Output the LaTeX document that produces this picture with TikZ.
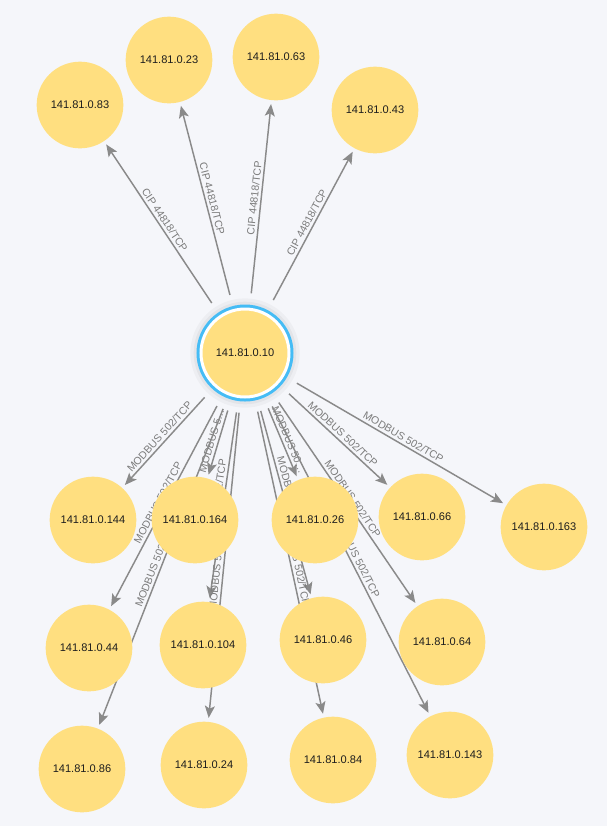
\documentclass[tikz,border=0pt]{standalone}
\usepackage{fontspec}
\setmainfont{Liberation Sans}
\usetikzlibrary{arrows.meta}
\definecolor{graphbg}{HTML}{F5F6FA}
\definecolor{ipfill}{HTML}{FFDF80}
\definecolor{ipring}{HTML}{45BCF5}
\definecolor{linkgray}{HTML}{8A8A8A}
\definecolor{labelgray}{HTML}{7B7B7B}
\definecolor{iptext}{HTML}{1E1E1E}
\pgfdeclarelayer{backdrop}
\pgfdeclarelayer{links}
\pgfsetlayers{backdrop,links,main}

\begin{document}
\begin{tikzpicture}[
    x=0.75pt, y=-0.75pt,
    ip/.style={circle, fill=ipfill, minimum size=65pt, inner sep=0pt, outer sep=3pt,
      text=iptext, font=\fontsize{8.3}{10}\selectfont},
    hub/.style={ip, minimum size=66pt, draw=white, line width=2.25pt,
      preaction={draw=ipring, line width=6.75pt}, outer sep=12pt},
    link/.style={draw=linkgray, line width=1.1pt,
      -{Stealth[length=9pt, width=7.5pt, inset=2pt]}},
    lbl/.style={font=\fontsize{7.9}{9}\selectfont, text=labelgray, sloped, above, inner sep=1.8pt},
  ]

  % ---------- canvas
  \begin{pgfonlayer}{backdrop}
    \fill[graphbg] (0,0) rectangle (607,826);
  \end{pgfonlayer}
  \useasboundingbox (0,0) rectangle (607,826);

  % ---------- hub
  \fill[black, opacity=0.03] (245,353) circle[radius=41pt];
  \fill[black, opacity=0.04] (245,353) circle[radius=38.5pt];
  \node[hub] (ip10) at (245,353) {141.81.0.10};

  % ---------- CIP peers
  \node[ip] (ip83) at (80,105) {141.81.0.83};
  \node[ip] (ip23) at (169,60) {141.81.0.23};
  \node[ip] (ip63) at (276,57) {141.81.0.63};
  \node[ip] (ip43) at (375,110) {141.81.0.43};

  % ---------- MODBUS peers
  \node[ip] (ip144) at (93,520) {141.81.0.144};
  \node[ip] (ip164) at (195,520) {141.81.0.164};
  \node[ip] (ip26) at (315,520) {141.81.0.26};
  \node[ip] (ip66) at (422,517) {141.81.0.66};
  \node[ip] (ip163) at (544,527) {141.81.0.163};
  \node[ip] (ip44) at (89,648) {141.81.0.44};
  \node[ip] (ip104) at (203,645) {141.81.0.104};
  \node[ip] (ip46) at (323,640) {141.81.0.46};
  \node[ip] (ip64) at (442,642) {141.81.0.64};
  \node[ip] (ip86) at (82,769) {141.81.0.86};
  \node[ip] (ip24) at (204,765) {141.81.0.24};
  \node[ip] (ip84) at (333,760) {141.81.0.84};
  \node[ip] (ip143) at (450,755) {141.81.0.143};

  % ---------- links (behind the nodes)
  \begin{pgfonlayer}{links}
    \draw[link] (ip10) -- node[lbl] {CIP 44818/TCP} (ip83);
    \draw[link] (ip10) -- node[lbl] {CIP 44818/TCP} (ip23);
    \draw[link] (ip10) -- node[lbl] {CIP 44818/TCP} (ip63);
    \draw[link] (ip10) -- node[lbl] {CIP 44818/TCP} (ip43);

    \draw[link] (ip10) -- node[lbl] {MODBUS 502/TCP} (ip144);
    \draw[link] (ip10) -- node[lbl] {MODBUS 5\ldots} (ip164);
    \draw[link] (ip10) -- node[lbl] {MODBUS 50\ldots} (ip26);
    \draw[link] (ip10) -- node[lbl] {MODBUS 502/TCP} (ip66);
    \draw[link] (ip10) -- node[lbl] {MODBUS 502/TCP} (ip163);
    \draw[link] (ip10) -- node[lbl] {MODBUS 502/TCP} (ip44);
    \draw[link] (ip10) -- node[lbl] {MODBUS 502/TCP} (ip104);
    \draw[link] (ip10) -- node[lbl] {MODBUS 502/TCP} (ip46);
    \draw[link] (ip10) -- node[lbl] {MODBUS 502/TCP} (ip64);
    \draw[link] (ip10) -- node[lbl] {MODBUS 502/TCP} (ip86);
    \draw[link] (ip10) -- node[lbl] {MODBUS 502/TCP} (ip24);
    \draw[link] (ip10) -- node[lbl] {MODBUS 502/TCP} (ip84);
    \draw[link] (ip10) -- node[lbl] {MODBUS 502/TCP} (ip143);
  \end{pgfonlayer}

\end{tikzpicture}
\end{document}
